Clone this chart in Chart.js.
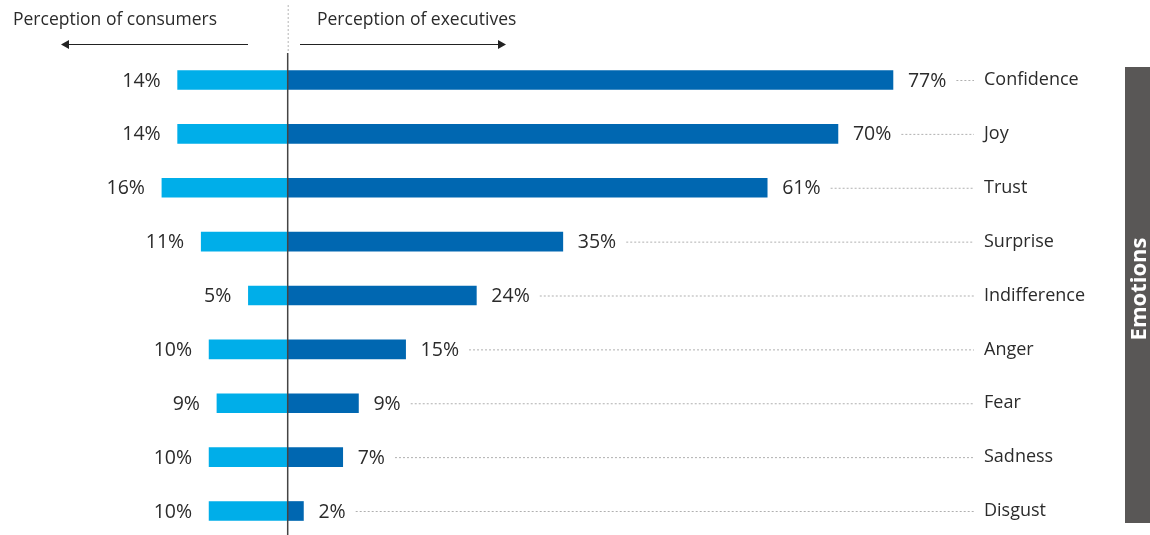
<!DOCTYPE html>
<html>
<head>
<meta charset="utf-8">
<script src="https://cdn.jsdelivr.net/npm/chart.js@4"></script>
<style>
  html, body { margin: 0; padding: 0; background: #fff; }
  #wrap { position: relative; width: 1150px; height: 535px; }
</style>
</head>
<body>
<div id="wrap"><canvas id="emotions-chart"></canvas></div>
<script>
// data
const emotions = ['Confidence', 'Joy', 'Trust', 'Surprise', 'Indifference', 'Anger', 'Fear', 'Sadness', 'Disgust'];
const consumers = [14, 14, 16, 11, 5, 10, 9, 10, 10];
const executives = [77, 70, 61, 35, 24, 15, 9, 7, 2];

const leftTitle = 'Perception of consumers';
const rightTitle = 'Perception of executives';
const sideTitle = 'Emotions';

const FONT = '"Open Sans", "Noto Sans", sans-serif';
const TEXT = '#2b2b2b';

// =======================================================
// OVERLAY: headers, arrows, value labels, leader dots
// =======================================================
const overlay = {
  id: 'overlay',
  afterDatasetsDraw(chart) {
    const { ctx, scales: { x, y } } = chart;
    const zero = x.getPixelForValue(0);
    ctx.save();

    // center axis: dotted above, solid below
    ctx.strokeStyle = '#b5b5b5';
    ctx.lineWidth = 1;
    ctx.setLineDash([2, 2]);
    ctx.beginPath();
    ctx.moveTo(zero + 0.5, 5);
    ctx.lineTo(zero + 0.5, 53);
    ctx.stroke();
    ctx.setLineDash([]);
    ctx.strokeStyle = '#444';
    ctx.lineWidth = 1.5;
    ctx.beginPath();
    ctx.moveTo(zero, 53);
    ctx.lineTo(zero, 535);
    ctx.stroke();

    // headers
    ctx.fillStyle = TEXT;
    ctx.font = `17.5px ${FONT}`;
    ctx.textBaseline = 'middle';
    ctx.textAlign = 'left';
    ctx.fillText(leftTitle, 13, 20);
    ctx.fillText(rightTitle, 317, 20);

    // arrows
    ctx.strokeStyle = '#222';
    ctx.fillStyle = '#222';
    ctx.lineWidth = 1.2;
    ctx.beginPath();
    ctx.moveTo(68, 44.5); ctx.lineTo(248, 44.5);
    ctx.moveTo(300, 44.5); ctx.lineTo(500, 44.5);
    ctx.stroke();
    ctx.beginPath();
    ctx.moveTo(61, 44.5); ctx.lineTo(69, 40); ctx.lineTo(69, 49); ctx.closePath();
    ctx.moveTo(506, 44.5); ctx.lineTo(498, 40); ctx.lineTo(498, 49); ctx.closePath();
    ctx.fill();

    // value labels + leader dots + category names
    const catX = 984;
    emotions.forEach((name, i) => {
      const cy = y.getPixelForValue(i);
      ctx.font = `19.5px ${FONT}`;
      ctx.fillStyle = TEXT;
      ctx.textAlign = 'right';
      ctx.fillText(consumers[i] + '%', x.getPixelForValue(-consumers[i]) - 17, cy + 1);

      const ex = x.getPixelForValue(executives[i]) + 15;
      const label = executives[i] + '%';
      ctx.textAlign = 'left';
      ctx.fillText(label, ex, cy + 1);
      const endText = ex + ctx.measureText(label).width;

      ctx.strokeStyle = '#b0b0b0';
      ctx.lineWidth = 1;
      ctx.setLineDash([2, 2]);
      ctx.beginPath();
      ctx.moveTo(endText + 10, cy + 0.5);
      ctx.lineTo(catX - 10, cy + 0.5);
      ctx.stroke();
      ctx.setLineDash([]);

      ctx.font = `18px ${FONT}`;
      ctx.fillStyle = TEXT;
      ctx.fillText(name, catX, cy);
    });

    // side box
    ctx.fillStyle = '#595756';
    ctx.fillRect(1125, 67, 25, 456);
    ctx.translate(1140, 289);
    ctx.rotate(-Math.PI / 2);
    ctx.fillStyle = '#fff';
    ctx.font = `bold 22px ${FONT}`;
    ctx.textAlign = 'center';
    ctx.fillText(sideTitle, 0, 0);

    ctx.restore();
  }
};

const chart = new Chart($canvas(), {
  type: 'bar',
  data: {
    labels: emotions,
    datasets: [
      {
        label: leftTitle,
        data: consumers.map(v => -v),
        backgroundColor: '#00aee9',
        barThickness: 19,
        clip: false,
      },
      {
        label: rightTitle,
        data: executives,
        backgroundColor: '#0067b1',
        barThickness: 19,
        clip: false,
      }
    ]
  },
  options: {
    indexAxis: 'y',
    responsive: false,
    animation: false,
    layout: { padding: { left: 0, right: 0, top: 80, bottom: 24 } },
    scales: {
      x: {
        stacked: true,
        min: -36.6, max: 109.7,
        display: false,
        grid: { display: false }
      },
      y: {
        stacked: true,
        offset: false,
        display: false,
        grid: { display: false }
      }
    },
    plugins: {
      legend: { display: false },
      tooltip: { enabled: false }
    }
  },
  plugins: [overlay]
});

function $canvas() {
  const c = document.getElementById('emotions-chart');
  c.width = 1150;
  c.height = 535;
  c.style.width = '1150px';
  c.style.height = '535px';
  return c.getContext('2d');
}
</script>
</body>
</html>
